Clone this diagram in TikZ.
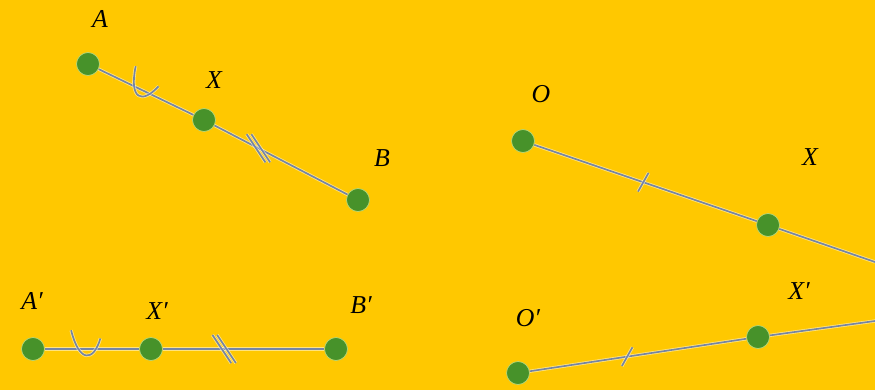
\documentclass[tikz,border=0pt]{standalone}
\usepackage{fontspec}
\setmainfont{Liberation Serif}
\definecolor{bgyellow}{HTML}{FFC800}
\definecolor{ptgreen}{HTML}{47922A}
\definecolor{ptrim}{HTML}{B8D878}
\definecolor{segblue}{HTML}{7585A5}
\newcommand{\PtRadius}{11.5}
\tikzset{
  dotpt/.style={
    circle,inner sep=0pt,minimum size=2*\PtRadius*0.03cm,
    fill=ptgreen,draw=ptrim,line width=0.6pt
  },
  ptlabel/.style={font=\fontsize{22}{26}\selectfont\itshape,inner sep=0pt},
  seg/.style={
    draw=segblue,line width=1.4pt,
    preaction={draw=white,line width=2.8pt,opacity=0.5}
  },
  pics/arctick/.style={
    code={
      \draw[seg]
        (-13pt,16pt) .. controls (-6pt,-12pt) and (6pt,-11pt) .. (12pt,9pt);
    }
  },
  pics/twotick/.style={
    code={
      \draw[seg] (-10pt,12pt) -- (6pt,-12pt);
      \draw[seg] (-6pt,12pt) -- (10pt,-12pt);
    }
  },
  pics/onetick/.style={
    code={
      \draw[seg] (-4.5pt,-8pt) -- (4.5pt,8pt);
    }
  }
}
\begin{document}
\begin{tikzpicture}[x=0.03cm,y=-0.03cm]
  \fill[bgyellow] (0,0) rectangle (875,390);
  \useasboundingbox (0,0) rectangle (875,390);

  % segment AB and its copy
  \node[dotpt] (A) at (88,64) {};
  \node[dotpt] (X) at (204,120) {};
  \node[dotpt] (B) at (358,200) {};
  \node[ptlabel] (lA) at (100,19) {A};
  \node[ptlabel] (lX) at (214,80) {X};
  \node[ptlabel] (lB) at (382,158) {B};
  \draw[seg] (A) -- pic[pos=0.45,sloped]{arctick} (X);
  \draw[seg] (X) -- pic[pos=0.33]{twotick} (B);

  \node[dotpt] (Ap) at (33,349) {};
  \node[dotpt] (Xp) at (151,349) {};
  \node[dotpt] (Bp) at (336,349) {};
  \node[ptlabel] (lAp) at (32,301) {A′};
  \node[ptlabel] (lXp) at (157,311) {X′};
  \node[ptlabel] (lBp) at (361,305) {B′};
  \draw[seg] (Ap) -- pic[pos=0.44,sloped]{arctick} (Xp);
  \draw[seg] (Xp) -- pic[pos=0.38]{twotick} (Bp);

  % ray OX and its copy
  \node[dotpt] (O) at (523,141) {};
  \node[dotpt] (Xr) at (768,225) {};
  \coordinate (Oend) at (875,262);
  \node[ptlabel] (lO) at (541,94) {O};
  \node[ptlabel] (lXr) at (810,157) {X};
  \draw[seg] (O) -- pic[pos=0.49]{onetick} (Xr);
  \draw[seg] (Xr) -- (Oend);

  \node[dotpt] (Op) at (518,373) {};
  \node[dotpt] (Xrp) at (758,337) {};
  \coordinate (Opend) at (875,321);
  \node[ptlabel] (lOp) at (528,318) {O′};
  \node[ptlabel] (lXrp) at (799,291) {X′};
  \draw[seg] (Op) -- pic[pos=0.45]{onetick} (Xrp);
  \draw[seg] (Xrp) -- (Opend);
\end{tikzpicture}
\end{document}
